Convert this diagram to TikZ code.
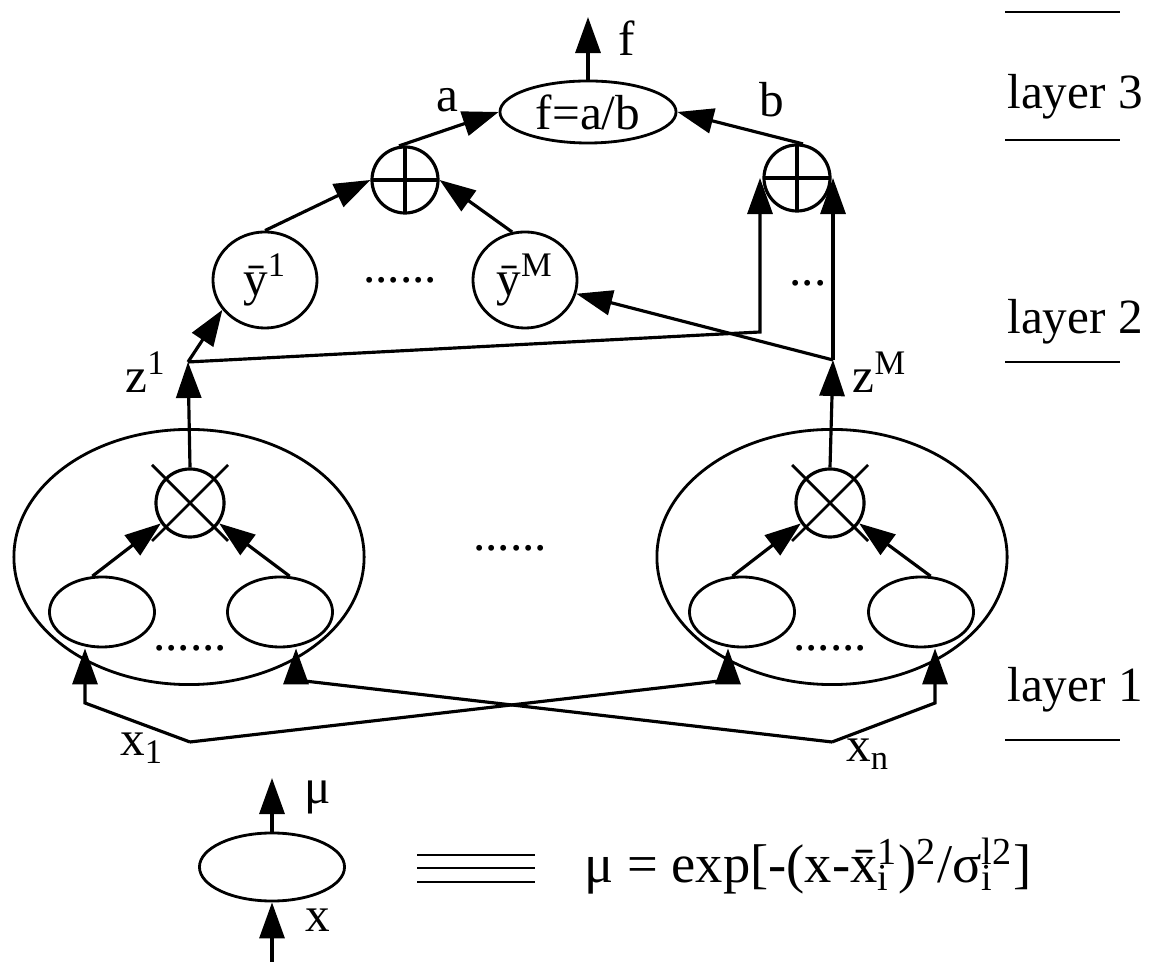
\documentclass[tikz,border=0pt]{standalone}
\usepackage{fontspec}
\setmainfont{Liberation Serif}
\usetikzlibrary{arrows.meta, positioning, shapes.geometric, calc}
\newcommand\supsub[2]{{\ooalign{\textsuperscript{#1}\cr\textsubscript{#2}\cr}}}

\begin{document}
\begin{tikzpicture}[x=0.01cm, y=-0.01cm, >={Triangle[length=3.6mm,width=2.5mm]},
  font=\fontsize{14}{16}\selectfont, line width=0.9pt]
  \tikzset{
    unit/.style={draw, ellipse, inner sep=0pt, line width=0.8pt},
    sumnode/.style={draw, circle, minimum size=0.66cm, inner sep=0pt,
      path picture={\draw (path picture bounding box.north) -- (path picture bounding box.south)
        (path picture bounding box.west) -- (path picture bounding box.east);}},
    prodnode/.style={draw, circle, minimum size=0.68cm, inner sep=0pt},
    dots/.style={inner sep=0pt}
  }
  \useasboundingbox (0,0) rectangle (1149,962);

  % layer 3
  \node[unit, minimum width=1.76cm, minimum height=0.62cm] (div) at (588,112) {f=a/b};
  \coordinate (fout) at (588,17);
  \draw[->] (div.north) -- (fout);
  \node (lf) at (627,38) {f};
  \node[sumnode] (sa) at (405,180) {};
  \node[sumnode] (sb) at (797,178) {};
  \draw[->] (sa.100) -- (div.west);
  \draw[->] (sb.80) -- (div.east);
  \node (la) at (447,100) {a};
  \node (lb) at (772,100) {b};

  % layer 2
  \node[unit, minimum width=1.04cm, minimum height=0.96cm] (y1) at (265,280) {ȳ\textsuperscript{1}};
  \node[unit, minimum width=1.04cm, minimum height=0.96cm] (yM) at (525,280) {ȳ\textsuperscript{M}};
  \node[dots] (d1) at (400,280) {......};
  \draw[->] (y1.north) -- (sa.west);
  \draw[->] (yM.105) -- (sa.east);
  \coordinate (z1) at (188,362);
  \coordinate (zM) at (833,360);
  \coordinate (c1) at (760,332);
  \node (lz1) at (146,372) {z\textsuperscript{1}};
  \node (lzM) at (880,372) {z\textsuperscript{M}};
  \draw[->] (z1) -- (y1.215);
  \draw[->] (zM) -- (yM.345);
  \draw[->] (z1) -- (c1) -- (c1 |- sb.west);
  \draw[->] (zM) -- (zM |- sb.east);
  \node[dots] (d2) at (808,283) {...};

  % layer 1
  \node[unit, minimum width=3.5cm, minimum height=2.55cm] (g1) at (189,557) {};
  \node[unit, minimum width=3.5cm, minimum height=2.55cm] (g2) at (832,557) {};
  \node[prodnode] (p1) at (190,503) {};
  \node[prodnode] (p2) at (830,503) {};
  \foreach \p in {p1,p2} {
    \draw[line width=0.8pt] ($(\p)+(-38,-38)$) -- ($(\p)+(38,38)$);
    \draw[line width=0.8pt] ($(\p)+(-38,38)$) -- ($(\p)+(38,-38)$);
  }
  \draw[->] (p1.north) -- (z1);
  \draw[->] (p2.north) -- (zM);
  \node[unit, minimum width=1.05cm, minimum height=0.7cm] (m11) at (102,612) {};
  \node[unit, minimum width=1.05cm, minimum height=0.7cm] (m12) at (280,612) {};
  \node[unit, minimum width=1.05cm, minimum height=0.7cm] (m21) at (742,612) {};
  \node[unit, minimum width=1.05cm, minimum height=0.7cm] (m22) at (921,612) {};
  \draw[->] (m11.105) -- (p1.215);
  \draw[->] (m12.75) -- (p1.325);
  \draw[->] (m21.105) -- (p2.215);
  \draw[->] (m22.75) -- (p2.325);
  \node[dots] (d3) at (190,648) {......};
  \node[dots] (d4) at (830,648) {......};
  \node[dots] (d5) at (510,548) {......};

  \coordinate (x1) at (190,742);
  \coordinate (xn) at (832,742);
  \node (lx1) at (142,748) {x\textsubscript{1}};
  \node (lxn) at (868,754) {x\textsubscript{n}};
  \draw[->] (x1) -- (85,703) -- ([xshift=-0.17cm]m11.south);
  \draw[->] (x1) -- (728,680) -- ([xshift=-0.14cm]m21.south);
  \draw[->] (xn) -- (296,680) -- ([xshift=0.16cm]m12.south);
  \draw[->] (xn) -- (935,703) -- ([xshift=0.14cm]m22.south);

  % layer marks
  \foreach \y in {12,140,362,740}
    \draw[line width=0.8pt] (1005,\y) -- (1120,\y);
  \node (l3) at (1075,97) {layer 3};
  \node (l2) at (1075,322) {layer 2};
  \node (l1) at (1075,690) {layer 1};

  % legend
  \node[unit, minimum width=1.45cm, minimum height=0.68cm] (leg) at (272,867) {};
  \coordinate (legout) at (272,778);
  \coordinate (legin) at (272,962);
  \draw[->] (leg.north) -- (legout);
  \draw[->] (legin) -- (leg.south);
  \node (lmu) at (318,797) {μ};
  \node (lx) at (318,920) {x};
  \foreach \y in {855,868,882}
    \draw[line width=0.7pt] (417,\y) -- (535,\y);
  \node[font=\fontsize{15.5}{18}\selectfont] (form) at (808,866)
    {μ = exp[-(x-\={x}\supsub{1}{i})\textsuperscript{2}/σ\supsub{l2}{i}]};
\end{tikzpicture}
\end{document}
